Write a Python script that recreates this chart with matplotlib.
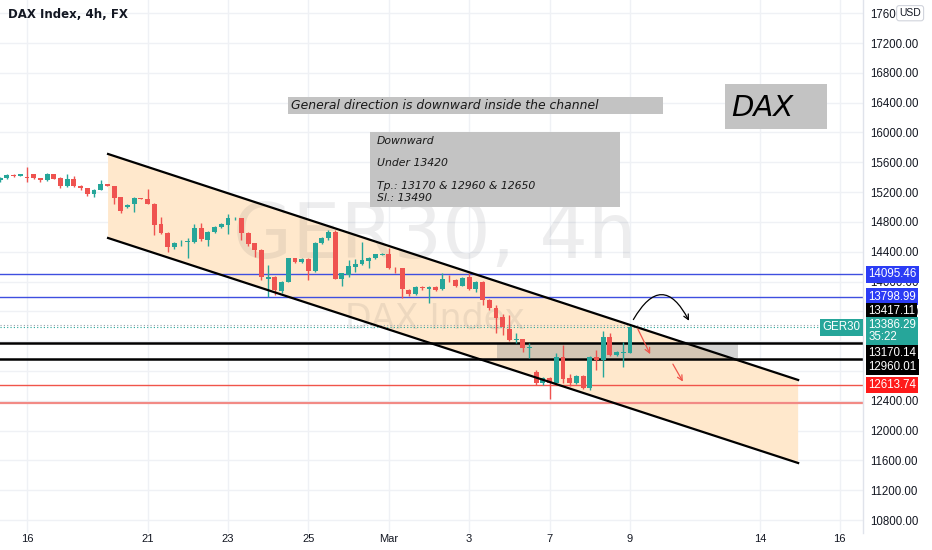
import numpy as np
import matplotlib
matplotlib.use('Agg')
import matplotlib.pyplot as plt
from matplotlib.patches import Rectangle, FancyArrowPatch
from matplotlib.transforms import blended_transform_factory

# 4h candles, first visible bar is index -4 (Feb 16 00:00 = 0)
opens = [15360, 15385, 15430, 15415, 15400, 15438, 15385, 15358, 15440, 15385,
         15285, 15375, 15285, 15250, 15170, 15232, 15304, 15277, 15134, 15000,
         15044, 15116, 15107, 15044, 14768, 14651, 14467, 14525, 14530, 14534,
         14714, 14557, 14668, 14735, 14758, 14835, 14848, 14655, 14513, 14423,
         14040, 14056, 13877, 13998, 14311, 14266, 14298, 14145, 14513, 14580,
         14668, 14034, 14087, 14190, 14231, 14275, 14311, 14360, 14365, 14185,
         14177, 13886, 13828, 13920, 13900, 13930, 13899, 14038, 14020, 13944,
         14065, 13899, 13998, 13752, 13640, 13520, 13359, 13218, 13225, 13110,
         12790, 12642, 12701, 12642, 12991, 12701, 12634, 12732, 12567, 12991,
         12947, 13251, 13014, 13040, 13045]
highs = [15400, 15440, 15440, 15445, 15540, 15445, 15395, 15460, 15445, 15405,
         15438, 15410, 15300, 15260, 15240, 15366, 15315, 15285, 15140, 15040,
         15130, 15125, 15241, 15050, 14870, 14660, 14530, 14560, 14580, 14772,
         14790, 14680, 14745, 14785, 14906, 14860, 14855, 14665, 14520, 14430,
         14222, 14070, 14010, 14320, 14320, 14320, 14310, 14530, 14600, 14690,
         14690, 14115, 14289, 14300, 14526, 14330, 14370, 14380, 14454, 14200,
         14185, 13895, 13945, 13935, 13935, 13945, 14110, 14085, 14030, 14060,
         14110, 14005, 14005, 13760, 13685, 13560, 13551, 13305, 13235, 13170,
         12813, 12720, 12720, 13041, 13148, 12760, 12745, 12740, 13000, 13081,
         13340, 13305, 13070, 13192, 13420]
lows = [15340, 15375, 15405, 15410, 15335, 15375, 15335, 15350, 15370, 15259,
        15265, 15265, 15230, 15150, 15140, 15225, 15285, 15044, 14920, 14980,
        14937, 15105, 15040, 14624, 14640, 14400, 14440, 14480, 14315, 14520,
        14550, 14480, 14650, 14720, 14640, 14825, 14560, 14480, 14330, 14020,
        13796, 13819, 13850, 13990, 14255, 14255, 14020, 14130, 14500, 14560,
        14030, 13944, 14060, 14130, 14220, 14180, 14300, 14350, 14170, 14120,
        13775, 13810, 13815, 13890, 13708, 13870, 13890, 13990, 13930, 13935,
        13890, 13860, 13690, 13620, 13305, 13282, 13205, 13180, 13058, 12970,
        12611, 12611, 12430, 12630, 12640, 12600, 12620, 12560, 12544, 12813,
        12723, 13000, 13005, 12857, 13040]
closes = [15385, 15430, 15412, 15438, 15390, 15385, 15362, 15447, 15375, 15285,
          15375, 15285, 15250, 15178, 15232, 15304, 15277, 15124, 14946, 15030,
          15124, 15112, 15044, 14758, 14651, 14467, 14520, 14535, 14545, 14714,
          14566, 14668, 14735, 14771, 14848, 14842, 14647, 14503, 14423, 14056,
          14060, 13886, 13998, 14311, 14266, 14305, 14145, 14513, 14580, 14668,
          14034, 14110, 14213, 14230, 14288, 14311, 14365, 14368, 14177, 14178,
          13899, 13828, 13930, 13912, 13920, 13890, 14034, 14030, 13944, 14051,
          13899, 13998, 13752, 13640, 13506, 13385, 13215, 13232, 13104, 13125,
          12642, 12701, 12642, 12991, 12688, 12642, 12732, 12567, 12991, 12947,
          13251, 13014, 13059, 13060, 13386.29]
first_bar = -4

# drawing objects (bar index, price)
channel_t = [12.1, 115.1]
channel_upper = [15711, 12679]
channel_lower = [14584, 11565]
zone_t = [70.1, 106.1]
zone_price = [12974, 13175]
blue_levels = [14095.46, 13798.99]
black_levels = [13170.14, 12960.01]
red_level = 12613.74
red_low_line = 12366
mark_level = 13417.11
last_price = 13386.29
timer_text = '35:22'

price_ticks = list(range(10800, 17601, 400))
date_labels = ['16', '21', '23', '25', 'Mar', '3', '7', '9', '14', '16']
date_pos = [0, 18, 30, 42, 54, 66, 78, 90, 109.4, 121.3]

GREEN = '#26a69a'
RED = '#ef5350'
TEXT = '#131722'

fig = plt.figure(figsize=(9.32, 5.5), dpi=100)
ax = fig.add_axes([0, 17 / 550, 863 / 932, 533 / 550])
ax.set_xlim(-4.03, 124.78)
ax.set_ylim(10626, 17777)

# grid
for p in price_ticks:
    ax.axhline(p, color='#eff1f5', lw=1, zorder=0)
for t in date_pos:
    ax.axvline(t, color='#eff1f5', lw=1, zorder=0)

# watermark
ax.text(0.504, 0.555, 'GER30, 4h', transform=ax.transAxes, ha='center', va='center',
        fontsize=55, color=TEXT, alpha=0.075, zorder=0.8)
ax.text(0.504, 0.403, 'DAX Index', transform=ax.transAxes, ha='center', va='center',
        fontsize=25, color=TEXT, alpha=0.075, zorder=0.8)

# channel
ax.fill([channel_t[0], channel_t[1], channel_t[1], channel_t[0]],
        [channel_upper[0], channel_upper[1], channel_lower[1], channel_lower[0]],
        color='#ffe8cc', zorder=0.5, lw=0)
ax.plot(channel_t, channel_upper, color='black', lw=1.6, zorder=4)
ax.plot(channel_t, channel_lower, color='black', lw=1.6, zorder=4)

# gray zone
ax.add_patch(Rectangle((zone_t[0], zone_price[0]), zone_t[1] - zone_t[0],
                       zone_price[1] - zone_price[0], color='#8c8c8c', alpha=0.38,
                       lw=0, zorder=0.7))

# horizontal levels
for lv in blue_levels:
    ax.axhline(lv, color='#3f4fe0', lw=1, zorder=1)
for lv in black_levels:
    ax.axhline(lv, color='black', lw=1.8, zorder=1)
ax.axhline(red_level, color='#f0544a', lw=1, zorder=1)
ax.axhline(red_low_line, color='#f28a85', lw=1.6, zorder=1)
ax.axhline(mark_level, color='#9aa3ad', lw=0.8, ls=(0, (1, 2)), zorder=1)
ax.axhline(last_price, color=GREEN, lw=0.8, ls=(0, (1, 2)), zorder=1)

# candles
xs = np.arange(len(opens)) + first_bar
for x, o, h, l, c in zip(xs, opens, highs, lows, closes):
    col = GREEN if c >= o else RED
    ax.vlines(x, l, h, color=col, lw=1, zorder=3)
    ax.bar(x, max(abs(c - o), 8), bottom=min(o, c), width=0.74, color=col, lw=0, zorder=3)

# arrows
ax.add_patch(FancyArrowPatch((90.3, 13457), (99, 13440), connectionstyle='arc3,rad=-0.95',
                             arrowstyle='->', mutation_scale=9, color='black', lw=0.9, zorder=5))
ax.add_patch(FancyArrowPatch((91.0, 13394), (93.2, 12992), arrowstyle='->',
                             mutation_scale=9, color='#f0544a', lw=0.9, zorder=5))
ax.add_patch(FancyArrowPatch((96.2, 12924), (98.1, 12625), arrowstyle='->',
                             mutation_scale=9, color='#f0544a', lw=0.9, zorder=5))


def px_box(x0, y0, x1, y1, **kw):
    ax.add_patch(Rectangle((x0 / 863, 1 - y1 / 533), (x1 - x0) / 863, (y1 - y0) / 533,
                           transform=ax.transAxes, zorder=6, lw=0, **kw))


def px_text(x, y, s, **kw):
    ax.text(x / 863, 1 - y / 533, s, transform=ax.transAxes, zorder=7, **kw)


# note boxes
px_box(288, 97, 663, 114, color='#c3c3c3')
px_text(291, 105.5, 'General direction is downward inside the channel', fontsize=8.9,
        style='italic', color='#1a1a1a', va='center')
px_box(370, 132, 620, 207, color='#c3c3c3')
px_text(377, 141, 'Downward', fontsize=7.8, style='italic', color='#1a1a1a', va='center')
px_text(377, 163, 'Under 13420', fontsize=7.8, style='italic', color='#1a1a1a', va='center')
px_text(377, 186, 'Tp.: 13170 & 12960 & 12650', fontsize=7.8, style='italic',
        color='#1a1a1a', va='center')
px_text(377, 198, 'Sl.: 13490', fontsize=7.8, style='italic', color='#1a1a1a', va='center')
px_box(725, 84, 827, 129, color='#c3c3c3')
px_text(731, 108, 'DAX', fontsize=21, style='italic', color='black', va='center')

# title
fig.text(8 / 932, 1 - 14 / 550, 'DAX Index, 4h, FX', fontsize=8.5, fontweight='bold',
         color=TEXT, va='center')

# axes formatting
for s in ax.spines.values():
    s.set_visible(False)
ax.yaxis.tick_right()
ax.set_yticks(price_ticks)
ax.set_yticklabels([f'{p:.2f}' for p in price_ticks], fontsize=8.3, color=TEXT,
                   family='Liberation Sans')
ax.set_xticks(date_pos)
ax.set_xticklabels(date_labels, fontsize=8, color=TEXT, family='Liberation Sans')
ax.tick_params(axis='both', length=0)
ax.tick_params(axis='y', pad=5)
ax.tick_params(axis='x', pad=1)
ax.axvline(124.78, color='#e0e3eb', lw=1, clip_on=False)

# price labels on scale
tr = blended_transform_factory(ax.transAxes, ax.transData)


def scale_label(y, s, fc, fg='white'):
    ax.text(1.006, y, s, transform=tr, ha='left', va='center', fontsize=8.3, color=fg,
            family='Liberation Sans', clip_on=False, zorder=8,
            bbox=dict(boxstyle='square,pad=0.2', fc=fc, ec='none'))


scale_label(blue_levels[0], f'{blue_levels[0]:.2f}', '#2b3cf5')
scale_label(blue_levels[1], f'{blue_levels[1]:.2f}', '#2b3cf5')
scale_label(13600, f'{mark_level:.2f}', 'black')
ax.text(1.006, 13330, f'{last_price:.2f}\n{timer_text}', transform=tr, ha='left', va='center',
        fontsize=8.3, color='white', family='Liberation Sans', linespacing=1.0,
        clip_on=False, zorder=8, bbox=dict(boxstyle='square,pad=0.2', fc=GREEN, ec='none'))
ax.text(0.997, last_price, 'GER30', transform=tr, ha='right', va='center', fontsize=8.3,
        color='white', family='Liberation Sans', zorder=8,
        bbox=dict(boxstyle='square,pad=0.2', fc=GREEN, ec='none'))
scale_label(13041, f'{black_levels[0]:.2f}', 'black')
scale_label(12853, f'{black_levels[1]:.2f}', 'black')
scale_label(red_level, f'{red_level:.2f}', '#ff1a1a')
ax.text(1.042, 17600, 'USD', transform=tr, ha='left', va='center', fontsize=7.5,
        color=TEXT, family='Liberation Sans', clip_on=False, zorder=8,
        bbox=dict(boxstyle='round,pad=0.25', fc='white', ec='#d1d4dc', lw=0.8))

fig.savefig('out.png', dpi=100)
